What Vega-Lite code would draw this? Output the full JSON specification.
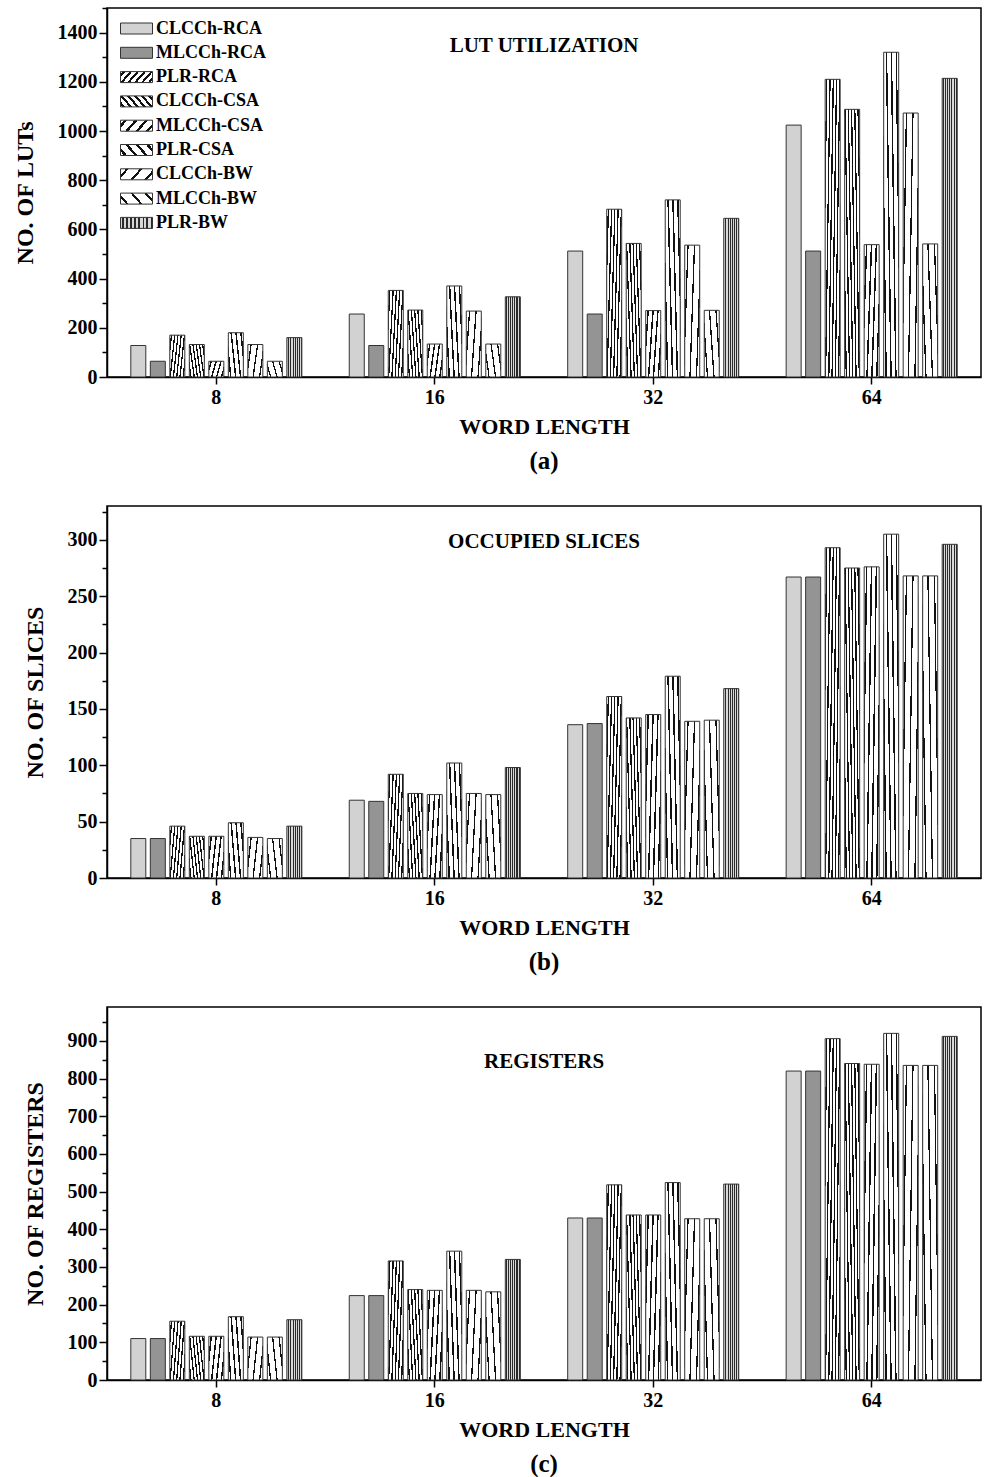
{
  "$schema": "https://vega.github.io/schema/vega-lite/v6.json",
  "padding": {"left": 12, "top": 6, "right": 4, "bottom": 0},
  "background": "#ffffff",
  "config": {
    "font": "Liberation Serif",
    "view": {"stroke": "#000000", "strokeWidth": 1.5},
    "axis": {"domainColor": "#000000", "domainWidth": 1.5, "tickColor": "#000000", "tickWidth": 1.5, "grid": false,
      "labelFont": "Liberation Serif", "labelFontWeight": "bold", "labelFontSize": 20, "labelColor": "#000000",
      "titleFont": "Liberation Serif", "titleFontWeight": "bold", "titleFontSize": 22, "titleColor": "#000000"},
    "title": {"font": "Liberation Serif", "fontWeight": "bold", "fontSize": 25, "color": "#000000"}
  },
  "datasets": {
    "lut": [
      {"w": "8", "s": "CLCCh-RCA", "v": 128}, {"w": "8", "s": "MLCCh-RCA", "v": 64}, {"w": "8", "s": "PLR-RCA", "v": 170},
      {"w": "8", "s": "CLCCh-CSA", "v": 132}, {"w": "8", "s": "MLCCh-CSA", "v": 64}, {"w": "8", "s": "PLR-CSA", "v": 180},
      {"w": "8", "s": "CLCCh-BW", "v": 132}, {"w": "8", "s": "MLCCh-BW", "v": 64}, {"w": "8", "s": "PLR-BW", "v": 160},
      {"w": "16", "s": "CLCCh-RCA", "v": 256}, {"w": "16", "s": "MLCCh-RCA", "v": 128}, {"w": "16", "s": "PLR-RCA", "v": 352},
      {"w": "16", "s": "CLCCh-CSA", "v": 272}, {"w": "16", "s": "MLCCh-CSA", "v": 134}, {"w": "16", "s": "PLR-CSA", "v": 370},
      {"w": "16", "s": "CLCCh-BW", "v": 268}, {"w": "16", "s": "MLCCh-BW", "v": 134}, {"w": "16", "s": "PLR-BW", "v": 326},
      {"w": "32", "s": "CLCCh-RCA", "v": 512}, {"w": "32", "s": "MLCCh-RCA", "v": 256}, {"w": "32", "s": "PLR-RCA", "v": 682},
      {"w": "32", "s": "CLCCh-CSA", "v": 543}, {"w": "32", "s": "MLCCh-CSA", "v": 270}, {"w": "32", "s": "PLR-CSA", "v": 720},
      {"w": "32", "s": "CLCCh-BW", "v": 536}, {"w": "32", "s": "MLCCh-BW", "v": 271}, {"w": "32", "s": "PLR-BW", "v": 645},
      {"w": "64", "s": "CLCCh-RCA", "v": 1024}, {"w": "64", "s": "MLCCh-RCA", "v": 512}, {"w": "64", "s": "PLR-RCA", "v": 1210},
      {"w": "64", "s": "CLCCh-CSA", "v": 1088}, {"w": "64", "s": "MLCCh-CSA", "v": 538}, {"w": "64", "s": "PLR-CSA", "v": 1320},
      {"w": "64", "s": "CLCCh-BW", "v": 1073}, {"w": "64", "s": "MLCCh-BW", "v": 541}, {"w": "64", "s": "PLR-BW", "v": 1214}
    ],
    "slices": [
      {"w": "8", "s": "CLCCh-RCA", "v": 35}, {"w": "8", "s": "MLCCh-RCA", "v": 35}, {"w": "8", "s": "PLR-RCA", "v": 46},
      {"w": "8", "s": "CLCCh-CSA", "v": 37}, {"w": "8", "s": "MLCCh-CSA", "v": 37}, {"w": "8", "s": "PLR-CSA", "v": 49},
      {"w": "8", "s": "CLCCh-BW", "v": 36}, {"w": "8", "s": "MLCCh-BW", "v": 35}, {"w": "8", "s": "PLR-BW", "v": 46},
      {"w": "16", "s": "CLCCh-RCA", "v": 69}, {"w": "16", "s": "MLCCh-RCA", "v": 68}, {"w": "16", "s": "PLR-RCA", "v": 92},
      {"w": "16", "s": "CLCCh-CSA", "v": 75}, {"w": "16", "s": "MLCCh-CSA", "v": 74}, {"w": "16", "s": "PLR-CSA", "v": 102},
      {"w": "16", "s": "CLCCh-BW", "v": 75}, {"w": "16", "s": "MLCCh-BW", "v": 74}, {"w": "16", "s": "PLR-BW", "v": 98},
      {"w": "32", "s": "CLCCh-RCA", "v": 136}, {"w": "32", "s": "MLCCh-RCA", "v": 137}, {"w": "32", "s": "PLR-RCA", "v": 161},
      {"w": "32", "s": "CLCCh-CSA", "v": 142}, {"w": "32", "s": "MLCCh-CSA", "v": 145}, {"w": "32", "s": "PLR-CSA", "v": 179},
      {"w": "32", "s": "CLCCh-BW", "v": 139}, {"w": "32", "s": "MLCCh-BW", "v": 140}, {"w": "32", "s": "PLR-BW", "v": 168},
      {"w": "64", "s": "CLCCh-RCA", "v": 267}, {"w": "64", "s": "MLCCh-RCA", "v": 267}, {"w": "64", "s": "PLR-RCA", "v": 293},
      {"w": "64", "s": "CLCCh-CSA", "v": 275}, {"w": "64", "s": "MLCCh-CSA", "v": 276}, {"w": "64", "s": "PLR-CSA", "v": 305},
      {"w": "64", "s": "CLCCh-BW", "v": 268}, {"w": "64", "s": "MLCCh-BW", "v": 268}, {"w": "64", "s": "PLR-BW", "v": 296}
    ],
    "regs": [
      {"w": "8", "s": "CLCCh-RCA", "v": 110}, {"w": "8", "s": "MLCCh-RCA", "v": 110}, {"w": "8", "s": "PLR-RCA", "v": 156},
      {"w": "8", "s": "CLCCh-CSA", "v": 116}, {"w": "8", "s": "MLCCh-CSA", "v": 116}, {"w": "8", "s": "PLR-CSA", "v": 168},
      {"w": "8", "s": "CLCCh-BW", "v": 114}, {"w": "8", "s": "MLCCh-BW", "v": 114}, {"w": "8", "s": "PLR-BW", "v": 160},
      {"w": "16", "s": "CLCCh-RCA", "v": 224}, {"w": "16", "s": "MLCCh-RCA", "v": 224}, {"w": "16", "s": "PLR-RCA", "v": 316},
      {"w": "16", "s": "CLCCh-CSA", "v": 240}, {"w": "16", "s": "MLCCh-CSA", "v": 238}, {"w": "16", "s": "PLR-CSA", "v": 342},
      {"w": "16", "s": "CLCCh-BW", "v": 238}, {"w": "16", "s": "MLCCh-BW", "v": 234}, {"w": "16", "s": "PLR-BW", "v": 320},
      {"w": "32", "s": "CLCCh-RCA", "v": 430}, {"w": "32", "s": "MLCCh-RCA", "v": 430}, {"w": "32", "s": "PLR-RCA", "v": 518},
      {"w": "32", "s": "CLCCh-CSA", "v": 438}, {"w": "32", "s": "MLCCh-CSA", "v": 438}, {"w": "32", "s": "PLR-CSA", "v": 524},
      {"w": "32", "s": "CLCCh-BW", "v": 428}, {"w": "32", "s": "MLCCh-BW", "v": 428}, {"w": "32", "s": "PLR-BW", "v": 520},
      {"w": "64", "s": "CLCCh-RCA", "v": 820}, {"w": "64", "s": "MLCCh-RCA", "v": 820}, {"w": "64", "s": "PLR-RCA", "v": 906},
      {"w": "64", "s": "CLCCh-CSA", "v": 840}, {"w": "64", "s": "MLCCh-CSA", "v": 838}, {"w": "64", "s": "PLR-CSA", "v": 920},
      {"w": "64", "s": "CLCCh-BW", "v": 835}, {"w": "64", "s": "MLCCh-BW", "v": 835}, {"w": "64", "s": "PLR-BW", "v": 912}
    ]
  },
  "resolve": {"scale": {"x": "independent", "y": "independent", "fill": "independent", "xOffset": "independent"}, "legend": {"fill": "independent"}},
  "spacing": 30,
  "vconcat": [
    {
      "width": 874, "height": 369,
      "title": {"text": "(a)", "orient": "bottom", "offset": 12, "frame": "group"},
      "layer": [
        {
          "data": {"name": "lut"},
          "mark": {"type": "bar", "strokeWidth": 1, "stroke": "#333333"},
          "encoding": {
            "x": {"field": "w", "type": "ordinal", "scale": {"domain": ["8", "16", "32", "64"], "paddingInner": 0.217, "paddingOuter": 0.109},
              "axis": {"title": "WORD LENGTH", "labelAngle": 0, "tickSize": 7, "labelPadding": 3, "titlePadding": 9}},
            "xOffset": {"field": "s", "type": "nominal", "scale": {"domain": ["CLCCh-RCA", "MLCCh-RCA", "PLR-RCA", "CLCCh-CSA", "MLCCh-CSA", "PLR-CSA", "CLCCh-BW", "MLCCh-BW", "PLR-BW"], "paddingInner": 0.231, "paddingOuter": 0}},
            "y": {"field": "v", "type": "quantitative", "scale": {"domain": [0, 1500], "nice": false},
              "axis": {"title": "NO. OF LUTs", "titleFontSize": 24, "format": "d", "values": [0, 100, 200, 300, 400, 500, 600, 700, 800, 900, 1000, 1100, 1200, 1300, 1400, 1500],
                "labelExpr": "datum.value % 200 === 0 ? datum.label : ''",
                "tickSize": {"condition": {"test": "datum.value % 200 === 0", "value": 8}, "value": 5},
                "labelPadding": 2, "titlePadding": 20}},
            "fill": {"field": "s", "type": "nominal",
              "scale": {"domain": ["CLCCh-RCA", "MLCCh-RCA", "PLR-RCA", "CLCCh-CSA", "MLCCh-CSA", "PLR-CSA", "CLCCh-BW", "MLCCh-BW", "PLR-BW"],
                "range": [
                  "#d2d2d2",
                  "#949494",
                  {"expr": "{gradient:'linear',x1:0,y1:0,x2:1.193,y2:0.358,stops:[{offset:0,color:'#fff'},{offset:0.05,color:'#fff'},{offset:0.05,color:'#111'},{offset:0.117,color:'#111'},{offset:0.117,color:'#fff'},{offset:0.217,color:'#fff'},{offset:0.217,color:'#111'},{offset:0.283,color:'#111'},{offset:0.283,color:'#fff'},{offset:0.383,color:'#fff'},{offset:0.383,color:'#111'},{offset:0.45,color:'#111'},{offset:0.45,color:'#fff'},{offset:0.55,color:'#fff'},{offset:0.55,color:'#111'},{offset:0.617,color:'#111'},{offset:0.617,color:'#fff'},{offset:0.717,color:'#fff'},{offset:0.717,color:'#111'},{offset:0.783,color:'#111'},{offset:0.783,color:'#fff'},{offset:0.883,color:'#fff'},{offset:0.883,color:'#111'},{offset:0.95,color:'#111'},{offset:0.95,color:'#fff'},{offset:1,color:'#fff'}]}"},
                  {"expr": "{gradient:'linear',x1:0,y1:1,x2:1.193,y2:0.642,stops:[{offset:0,color:'#fff'},{offset:0.05,color:'#fff'},{offset:0.05,color:'#111'},{offset:0.117,color:'#111'},{offset:0.117,color:'#fff'},{offset:0.217,color:'#fff'},{offset:0.217,color:'#111'},{offset:0.283,color:'#111'},{offset:0.283,color:'#fff'},{offset:0.383,color:'#fff'},{offset:0.383,color:'#111'},{offset:0.45,color:'#111'},{offset:0.45,color:'#fff'},{offset:0.55,color:'#fff'},{offset:0.55,color:'#111'},{offset:0.617,color:'#111'},{offset:0.617,color:'#fff'},{offset:0.717,color:'#fff'},{offset:0.717,color:'#111'},{offset:0.783,color:'#111'},{offset:0.783,color:'#fff'},{offset:0.883,color:'#fff'},{offset:0.883,color:'#111'},{offset:0.95,color:'#111'},{offset:0.95,color:'#fff'},{offset:1,color:'#fff'}]}"},
                  {"expr": "{gradient:'linear',x1:0,y1:0,x2:1.193,y2:0.358,stops:[{offset:0,color:'#fff'},{offset:0.0875,color:'#fff'},{offset:0.0875,color:'#111'},{offset:0.1625,color:'#111'},{offset:0.1625,color:'#fff'},{offset:0.3375,color:'#fff'},{offset:0.3375,color:'#111'},{offset:0.4125,color:'#111'},{offset:0.4125,color:'#fff'},{offset:0.5875,color:'#fff'},{offset:0.5875,color:'#111'},{offset:0.6625,color:'#111'},{offset:0.6625,color:'#fff'},{offset:0.8375,color:'#fff'},{offset:0.8375,color:'#111'},{offset:0.9125,color:'#111'},{offset:0.9125,color:'#fff'},{offset:1,color:'#fff'}]}"},
                  {"expr": "{gradient:'linear',x1:0,y1:1,x2:1.193,y2:0.642,stops:[{offset:0,color:'#fff'},{offset:0.0875,color:'#fff'},{offset:0.0875,color:'#111'},{offset:0.1625,color:'#111'},{offset:0.1625,color:'#fff'},{offset:0.3375,color:'#fff'},{offset:0.3375,color:'#111'},{offset:0.4125,color:'#111'},{offset:0.4125,color:'#fff'},{offset:0.5875,color:'#fff'},{offset:0.5875,color:'#111'},{offset:0.6625,color:'#111'},{offset:0.6625,color:'#fff'},{offset:0.8375,color:'#fff'},{offset:0.8375,color:'#111'},{offset:0.9125,color:'#111'},{offset:0.9125,color:'#fff'},{offset:1,color:'#fff'}]}"},
                  {"expr": "{gradient:'linear',x1:0,y1:0,x2:1.193,y2:0.358,stops:[{offset:0,color:'#fff'},{offset:0.1333,color:'#fff'},{offset:0.1333,color:'#111'},{offset:0.2,color:'#111'},{offset:0.2,color:'#fff'},{offset:0.4667,color:'#fff'},{offset:0.4667,color:'#111'},{offset:0.5333,color:'#111'},{offset:0.5333,color:'#fff'},{offset:0.8,color:'#fff'},{offset:0.8,color:'#111'},{offset:0.8667,color:'#111'},{offset:0.8667,color:'#fff'},{offset:1,color:'#fff'}]}"},
                  {"expr": "{gradient:'linear',x1:0,y1:1,x2:1.193,y2:0.642,stops:[{offset:0,color:'#fff'},{offset:0.1333,color:'#fff'},{offset:0.1333,color:'#111'},{offset:0.2,color:'#111'},{offset:0.2,color:'#fff'},{offset:0.4667,color:'#fff'},{offset:0.4667,color:'#111'},{offset:0.5333,color:'#111'},{offset:0.5333,color:'#fff'},{offset:0.8,color:'#fff'},{offset:0.8,color:'#111'},{offset:0.8667,color:'#111'},{offset:0.8667,color:'#fff'},{offset:1,color:'#fff'}]}"},
                  {"expr": "{gradient:'linear',x1:0,y1:0,x2:1,y2:0,stops:[{offset:0,color:'#d8d8d8'},{offset:0.0625,color:'#d8d8d8'},{offset:0.0625,color:'#2a2a2a'},{offset:0.125,color:'#2a2a2a'},{offset:0.125,color:'#d8d8d8'},{offset:0.1875,color:'#d8d8d8'},{offset:0.1875,color:'#2a2a2a'},{offset:0.25,color:'#2a2a2a'},{offset:0.25,color:'#d8d8d8'},{offset:0.3125,color:'#d8d8d8'},{offset:0.3125,color:'#2a2a2a'},{offset:0.375,color:'#2a2a2a'},{offset:0.375,color:'#d8d8d8'},{offset:0.4375,color:'#d8d8d8'},{offset:0.4375,color:'#2a2a2a'},{offset:0.5,color:'#2a2a2a'},{offset:0.5,color:'#d8d8d8'},{offset:0.5625,color:'#d8d8d8'},{offset:0.5625,color:'#2a2a2a'},{offset:0.625,color:'#2a2a2a'},{offset:0.625,color:'#d8d8d8'},{offset:0.6875,color:'#d8d8d8'},{offset:0.6875,color:'#2a2a2a'},{offset:0.75,color:'#2a2a2a'},{offset:0.75,color:'#d8d8d8'},{offset:0.8125,color:'#d8d8d8'},{offset:0.8125,color:'#2a2a2a'},{offset:0.875,color:'#2a2a2a'},{offset:0.875,color:'#d8d8d8'},{offset:0.9375,color:'#d8d8d8'},{offset:0.9375,color:'#2a2a2a'},{offset:1,color:'#2a2a2a'}]}"}
                ]},
              "legend": {"orient": "top-left", "offset": 10, "padding": 0, "title": null, "symbolType": "M-0.7,-0.55H2.5V0.55H-0.7Z", "symbolSize": 400,
                "symbolStrokeColor": "#333333", "symbolStrokeWidth": 1, "labelOffset": 18, "labelFontSize": 18, "labelFontWeight": "bold",
                "labelFont": "Liberation Serif", "labelColor": "#000000", "rowPadding": 4.3}}
          }
        },
        {
          "data": {"values": [{"t": "LUT UTILIZATION"}]},
          "mark": {"type": "text", "fontSize": 21, "fontWeight": "bold", "font": "Liberation Serif", "color": "#000000", "align": "center", "baseline": "middle"},
          "encoding": {
            "x": {"datum": "16", "type": "ordinal", "bandPosition": 1.139,
              "axis": {"title": "WORD LENGTH", "labelAngle": 0, "tickSize": 7, "labelPadding": 3, "titlePadding": 9}},
            "y": {"datum": 1345, "type": "quantitative",
              "axis": {"title": "NO. OF LUTs", "titleFontSize": 24, "format": "d", "values": [0, 100, 200, 300, 400, 500, 600, 700, 800, 900, 1000, 1100, 1200, 1300, 1400, 1500],
                "labelExpr": "datum.value % 200 === 0 ? datum.label : ''",
                "tickSize": {"condition": {"test": "datum.value % 200 === 0", "value": 8}, "value": 5},
                "labelPadding": 2, "titlePadding": 20}},
            "text": {"field": "t"}
          }
        }
      ]
    },
    {
      "width": 874, "height": 372,
      "title": {"text": "(b)", "orient": "bottom", "offset": 12, "frame": "group"},
      "layer": [
        {
          "data": {"name": "slices"},
          "mark": {"type": "bar", "strokeWidth": 1, "stroke": "#333333"},
          "encoding": {
            "x": {"field": "w", "type": "ordinal", "scale": {"domain": ["8", "16", "32", "64"], "paddingInner": 0.217, "paddingOuter": 0.109},
              "axis": {"title": "WORD LENGTH", "labelAngle": 0, "tickSize": 7, "labelPadding": 3, "titlePadding": 9}},
            "xOffset": {"field": "s", "type": "nominal", "scale": {"domain": ["CLCCh-RCA", "MLCCh-RCA", "PLR-RCA", "CLCCh-CSA", "MLCCh-CSA", "PLR-CSA", "CLCCh-BW", "MLCCh-BW", "PLR-BW"], "paddingInner": 0.231, "paddingOuter": 0}},
            "y": {"field": "v", "type": "quantitative", "scale": {"domain": [0, 330], "nice": false},
              "axis": {"title": "NO. OF SLICES", "titleFontSize": 24, "format": "d", "values": [0, 25, 50, 75, 100, 125, 150, 175, 200, 225, 250, 275, 300, 325],
                "labelExpr": "datum.value % 50 === 0 ? datum.label : ''",
                "tickSize": {"condition": {"test": "datum.value % 50 === 0", "value": 8}, "value": 5},
                "labelPadding": 2, "titlePadding": 20}},
            "fill": {"field": "s", "type": "nominal", "legend": null,
              "scale": {"domain": ["CLCCh-RCA", "MLCCh-RCA", "PLR-RCA", "CLCCh-CSA", "MLCCh-CSA", "PLR-CSA", "CLCCh-BW", "MLCCh-BW", "PLR-BW"],
                "range": [
                  "#d2d2d2",
                  "#949494",
                  {"expr": "{gradient:'linear',x1:0,y1:0,x2:1.193,y2:0.358,stops:[{offset:0,color:'#fff'},{offset:0.05,color:'#fff'},{offset:0.05,color:'#111'},{offset:0.117,color:'#111'},{offset:0.117,color:'#fff'},{offset:0.217,color:'#fff'},{offset:0.217,color:'#111'},{offset:0.283,color:'#111'},{offset:0.283,color:'#fff'},{offset:0.383,color:'#fff'},{offset:0.383,color:'#111'},{offset:0.45,color:'#111'},{offset:0.45,color:'#fff'},{offset:0.55,color:'#fff'},{offset:0.55,color:'#111'},{offset:0.617,color:'#111'},{offset:0.617,color:'#fff'},{offset:0.717,color:'#fff'},{offset:0.717,color:'#111'},{offset:0.783,color:'#111'},{offset:0.783,color:'#fff'},{offset:0.883,color:'#fff'},{offset:0.883,color:'#111'},{offset:0.95,color:'#111'},{offset:0.95,color:'#fff'},{offset:1,color:'#fff'}]}"},
                  {"expr": "{gradient:'linear',x1:0,y1:1,x2:1.193,y2:0.642,stops:[{offset:0,color:'#fff'},{offset:0.05,color:'#fff'},{offset:0.05,color:'#111'},{offset:0.117,color:'#111'},{offset:0.117,color:'#fff'},{offset:0.217,color:'#fff'},{offset:0.217,color:'#111'},{offset:0.283,color:'#111'},{offset:0.283,color:'#fff'},{offset:0.383,color:'#fff'},{offset:0.383,color:'#111'},{offset:0.45,color:'#111'},{offset:0.45,color:'#fff'},{offset:0.55,color:'#fff'},{offset:0.55,color:'#111'},{offset:0.617,color:'#111'},{offset:0.617,color:'#fff'},{offset:0.717,color:'#fff'},{offset:0.717,color:'#111'},{offset:0.783,color:'#111'},{offset:0.783,color:'#fff'},{offset:0.883,color:'#fff'},{offset:0.883,color:'#111'},{offset:0.95,color:'#111'},{offset:0.95,color:'#fff'},{offset:1,color:'#fff'}]}"},
                  {"expr": "{gradient:'linear',x1:0,y1:0,x2:1.193,y2:0.358,stops:[{offset:0,color:'#fff'},{offset:0.0875,color:'#fff'},{offset:0.0875,color:'#111'},{offset:0.1625,color:'#111'},{offset:0.1625,color:'#fff'},{offset:0.3375,color:'#fff'},{offset:0.3375,color:'#111'},{offset:0.4125,color:'#111'},{offset:0.4125,color:'#fff'},{offset:0.5875,color:'#fff'},{offset:0.5875,color:'#111'},{offset:0.6625,color:'#111'},{offset:0.6625,color:'#fff'},{offset:0.8375,color:'#fff'},{offset:0.8375,color:'#111'},{offset:0.9125,color:'#111'},{offset:0.9125,color:'#fff'},{offset:1,color:'#fff'}]}"},
                  {"expr": "{gradient:'linear',x1:0,y1:1,x2:1.193,y2:0.642,stops:[{offset:0,color:'#fff'},{offset:0.0875,color:'#fff'},{offset:0.0875,color:'#111'},{offset:0.1625,color:'#111'},{offset:0.1625,color:'#fff'},{offset:0.3375,color:'#fff'},{offset:0.3375,color:'#111'},{offset:0.4125,color:'#111'},{offset:0.4125,color:'#fff'},{offset:0.5875,color:'#fff'},{offset:0.5875,color:'#111'},{offset:0.6625,color:'#111'},{offset:0.6625,color:'#fff'},{offset:0.8375,color:'#fff'},{offset:0.8375,color:'#111'},{offset:0.9125,color:'#111'},{offset:0.9125,color:'#fff'},{offset:1,color:'#fff'}]}"},
                  {"expr": "{gradient:'linear',x1:0,y1:0,x2:1.193,y2:0.358,stops:[{offset:0,color:'#fff'},{offset:0.1333,color:'#fff'},{offset:0.1333,color:'#111'},{offset:0.2,color:'#111'},{offset:0.2,color:'#fff'},{offset:0.4667,color:'#fff'},{offset:0.4667,color:'#111'},{offset:0.5333,color:'#111'},{offset:0.5333,color:'#fff'},{offset:0.8,color:'#fff'},{offset:0.8,color:'#111'},{offset:0.8667,color:'#111'},{offset:0.8667,color:'#fff'},{offset:1,color:'#fff'}]}"},
                  {"expr": "{gradient:'linear',x1:0,y1:1,x2:1.193,y2:0.642,stops:[{offset:0,color:'#fff'},{offset:0.1333,color:'#fff'},{offset:0.1333,color:'#111'},{offset:0.2,color:'#111'},{offset:0.2,color:'#fff'},{offset:0.4667,color:'#fff'},{offset:0.4667,color:'#111'},{offset:0.5333,color:'#111'},{offset:0.5333,color:'#fff'},{offset:0.8,color:'#fff'},{offset:0.8,color:'#111'},{offset:0.8667,color:'#111'},{offset:0.8667,color:'#fff'},{offset:1,color:'#fff'}]}"},
                  {"expr": "{gradient:'linear',x1:0,y1:0,x2:1,y2:0,stops:[{offset:0,color:'#d8d8d8'},{offset:0.0625,color:'#d8d8d8'},{offset:0.0625,color:'#2a2a2a'},{offset:0.125,color:'#2a2a2a'},{offset:0.125,color:'#d8d8d8'},{offset:0.1875,color:'#d8d8d8'},{offset:0.1875,color:'#2a2a2a'},{offset:0.25,color:'#2a2a2a'},{offset:0.25,color:'#d8d8d8'},{offset:0.3125,color:'#d8d8d8'},{offset:0.3125,color:'#2a2a2a'},{offset:0.375,color:'#2a2a2a'},{offset:0.375,color:'#d8d8d8'},{offset:0.4375,color:'#d8d8d8'},{offset:0.4375,color:'#2a2a2a'},{offset:0.5,color:'#2a2a2a'},{offset:0.5,color:'#d8d8d8'},{offset:0.5625,color:'#d8d8d8'},{offset:0.5625,color:'#2a2a2a'},{offset:0.625,color:'#2a2a2a'},{offset:0.625,color:'#d8d8d8'},{offset:0.6875,color:'#d8d8d8'},{offset:0.6875,color:'#2a2a2a'},{offset:0.75,color:'#2a2a2a'},{offset:0.75,color:'#d8d8d8'},{offset:0.8125,color:'#d8d8d8'},{offset:0.8125,color:'#2a2a2a'},{offset:0.875,color:'#2a2a2a'},{offset:0.875,color:'#d8d8d8'},{offset:0.9375,color:'#d8d8d8'},{offset:0.9375,color:'#2a2a2a'},{offset:1,color:'#2a2a2a'}]}"}
                ]}}
          }
        },
        {
          "data": {"values": [{"t": "OCCUPIED SLICES"}]},
          "mark": {"type": "text", "fontSize": 21, "fontWeight": "bold", "font": "Liberation Serif", "color": "#000000", "align": "center", "baseline": "middle"},
          "encoding": {
            "x": {"datum": "16", "type": "ordinal", "bandPosition": 1.139,
              "axis": {"title": "WORD LENGTH", "labelAngle": 0, "tickSize": 7, "labelPadding": 3, "titlePadding": 9}},
            "y": {"datum": 298, "type": "quantitative",
              "axis": {"title": "NO. OF SLICES", "titleFontSize": 24, "format": "d", "values": [0, 25, 50, 75, 100, 125, 150, 175, 200, 225, 250, 275, 300, 325],
                "labelExpr": "datum.value % 50 === 0 ? datum.label : ''",
                "tickSize": {"condition": {"test": "datum.value % 50 === 0", "value": 8}, "value": 5},
                "labelPadding": 2, "titlePadding": 20}},
            "text": {"field": "t"}
          }
        }
      ]
    },
    {
      "width": 874, "height": 373,
      "title": {"text": "(c)", "orient": "bottom", "offset": 12, "frame": "group"},
      "layer": [
        {
          "data": {"name": "regs"},
          "mark": {"type": "bar", "strokeWidth": 1, "stroke": "#333333"},
          "encoding": {
            "x": {"field": "w", "type": "ordinal", "scale": {"domain": ["8", "16", "32", "64"], "paddingInner": 0.217, "paddingOuter": 0.109},
              "axis": {"title": "WORD LENGTH", "labelAngle": 0, "tickSize": 7, "labelPadding": 3, "titlePadding": 9}},
            "xOffset": {"field": "s", "type": "nominal", "scale": {"domain": ["CLCCh-RCA", "MLCCh-RCA", "PLR-RCA", "CLCCh-CSA", "MLCCh-CSA", "PLR-CSA", "CLCCh-BW", "MLCCh-BW", "PLR-BW"], "paddingInner": 0.231, "paddingOuter": 0}},
            "y": {"field": "v", "type": "quantitative", "scale": {"domain": [0, 990], "nice": false},
              "axis": {"title": "NO. OF REGISTERS", "titleFontSize": 24, "format": "d", "values": [0, 50, 100, 150, 200, 250, 300, 350, 400, 450, 500, 550, 600, 650, 700, 750, 800, 850, 900, 950],
                "labelExpr": "datum.value % 100 === 0 ? datum.label : ''",
                "tickSize": {"condition": {"test": "datum.value % 100 === 0", "value": 8}, "value": 5},
                "labelPadding": 2, "titlePadding": 20}},
            "fill": {"field": "s", "type": "nominal", "legend": null,
              "scale": {"domain": ["CLCCh-RCA", "MLCCh-RCA", "PLR-RCA", "CLCCh-CSA", "MLCCh-CSA", "PLR-CSA", "CLCCh-BW", "MLCCh-BW", "PLR-BW"],
                "range": [
                  "#d2d2d2",
                  "#949494",
                  {"expr": "{gradient:'linear',x1:0,y1:0,x2:1.193,y2:0.358,stops:[{offset:0,color:'#fff'},{offset:0.05,color:'#fff'},{offset:0.05,color:'#111'},{offset:0.117,color:'#111'},{offset:0.117,color:'#fff'},{offset:0.217,color:'#fff'},{offset:0.217,color:'#111'},{offset:0.283,color:'#111'},{offset:0.283,color:'#fff'},{offset:0.383,color:'#fff'},{offset:0.383,color:'#111'},{offset:0.45,color:'#111'},{offset:0.45,color:'#fff'},{offset:0.55,color:'#fff'},{offset:0.55,color:'#111'},{offset:0.617,color:'#111'},{offset:0.617,color:'#fff'},{offset:0.717,color:'#fff'},{offset:0.717,color:'#111'},{offset:0.783,color:'#111'},{offset:0.783,color:'#fff'},{offset:0.883,color:'#fff'},{offset:0.883,color:'#111'},{offset:0.95,color:'#111'},{offset:0.95,color:'#fff'},{offset:1,color:'#fff'}]}"},
                  {"expr": "{gradient:'linear',x1:0,y1:1,x2:1.193,y2:0.642,stops:[{offset:0,color:'#fff'},{offset:0.05,color:'#fff'},{offset:0.05,color:'#111'},{offset:0.117,color:'#111'},{offset:0.117,color:'#fff'},{offset:0.217,color:'#fff'},{offset:0.217,color:'#111'},{offset:0.283,color:'#111'},{offset:0.283,color:'#fff'},{offset:0.383,color:'#fff'},{offset:0.383,color:'#111'},{offset:0.45,color:'#111'},{offset:0.45,color:'#fff'},{offset:0.55,color:'#fff'},{offset:0.55,color:'#111'},{offset:0.617,color:'#111'},{offset:0.617,color:'#fff'},{offset:0.717,color:'#fff'},{offset:0.717,color:'#111'},{offset:0.783,color:'#111'},{offset:0.783,color:'#fff'},{offset:0.883,color:'#fff'},{offset:0.883,color:'#111'},{offset:0.95,color:'#111'},{offset:0.95,color:'#fff'},{offset:1,color:'#fff'}]}"},
                  {"expr": "{gradient:'linear',x1:0,y1:0,x2:1.193,y2:0.358,stops:[{offset:0,color:'#fff'},{offset:0.0875,color:'#fff'},{offset:0.0875,color:'#111'},{offset:0.1625,color:'#111'},{offset:0.1625,color:'#fff'},{offset:0.3375,color:'#fff'},{offset:0.3375,color:'#111'},{offset:0.4125,color:'#111'},{offset:0.4125,color:'#fff'},{offset:0.5875,color:'#fff'},{offset:0.5875,color:'#111'},{offset:0.6625,color:'#111'},{offset:0.6625,color:'#fff'},{offset:0.8375,color:'#fff'},{offset:0.8375,color:'#111'},{offset:0.9125,color:'#111'},{offset:0.9125,color:'#fff'},{offset:1,color:'#fff'}]}"},
                  {"expr": "{gradient:'linear',x1:0,y1:1,x2:1.193,y2:0.642,stops:[{offset:0,color:'#fff'},{offset:0.0875,color:'#fff'},{offset:0.0875,color:'#111'},{offset:0.1625,color:'#111'},{offset:0.1625,color:'#fff'},{offset:0.3375,color:'#fff'},{offset:0.3375,color:'#111'},{offset:0.4125,color:'#111'},{offset:0.4125,color:'#fff'},{offset:0.5875,color:'#fff'},{offset:0.5875,color:'#111'},{offset:0.6625,color:'#111'},{offset:0.6625,color:'#fff'},{offset:0.8375,color:'#fff'},{offset:0.8375,color:'#111'},{offset:0.9125,color:'#111'},{offset:0.9125,color:'#fff'},{offset:1,color:'#fff'}]}"},
                  {"expr": "{gradient:'linear',x1:0,y1:0,x2:1.193,y2:0.358,stops:[{offset:0,color:'#fff'},{offset:0.1333,color:'#fff'},{offset:0.1333,color:'#111'},{offset:0.2,color:'#111'},{offset:0.2,color:'#fff'},{offset:0.4667,color:'#fff'},{offset:0.4667,color:'#111'},{offset:0.5333,color:'#111'},{offset:0.5333,color:'#fff'},{offset:0.8,color:'#fff'},{offset:0.8,color:'#111'},{offset:0.8667,color:'#111'},{offset:0.8667,color:'#fff'},{offset:1,color:'#fff'}]}"},
                  {"expr": "{gradient:'linear',x1:0,y1:1,x2:1.193,y2:0.642,stops:[{offset:0,color:'#fff'},{offset:0.1333,color:'#fff'},{offset:0.1333,color:'#111'},{offset:0.2,color:'#111'},{offset:0.2,color:'#fff'},{offset:0.4667,color:'#fff'},{offset:0.4667,color:'#111'},{offset:0.5333,color:'#111'},{offset:0.5333,color:'#fff'},{offset:0.8,color:'#fff'},{offset:0.8,color:'#111'},{offset:0.8667,color:'#111'},{offset:0.8667,color:'#fff'},{offset:1,color:'#fff'}]}"},
                  {"expr": "{gradient:'linear',x1:0,y1:0,x2:1,y2:0,stops:[{offset:0,color:'#d8d8d8'},{offset:0.0625,color:'#d8d8d8'},{offset:0.0625,color:'#2a2a2a'},{offset:0.125,color:'#2a2a2a'},{offset:0.125,color:'#d8d8d8'},{offset:0.1875,color:'#d8d8d8'},{offset:0.1875,color:'#2a2a2a'},{offset:0.25,color:'#2a2a2a'},{offset:0.25,color:'#d8d8d8'},{offset:0.3125,color:'#d8d8d8'},{offset:0.3125,color:'#2a2a2a'},{offset:0.375,color:'#2a2a2a'},{offset:0.375,color:'#d8d8d8'},{offset:0.4375,color:'#d8d8d8'},{offset:0.4375,color:'#2a2a2a'},{offset:0.5,color:'#2a2a2a'},{offset:0.5,color:'#d8d8d8'},{offset:0.5625,color:'#d8d8d8'},{offset:0.5625,color:'#2a2a2a'},{offset:0.625,color:'#2a2a2a'},{offset:0.625,color:'#d8d8d8'},{offset:0.6875,color:'#d8d8d8'},{offset:0.6875,color:'#2a2a2a'},{offset:0.75,color:'#2a2a2a'},{offset:0.75,color:'#d8d8d8'},{offset:0.8125,color:'#d8d8d8'},{offset:0.8125,color:'#2a2a2a'},{offset:0.875,color:'#2a2a2a'},{offset:0.875,color:'#d8d8d8'},{offset:0.9375,color:'#d8d8d8'},{offset:0.9375,color:'#2a2a2a'},{offset:1,color:'#2a2a2a'}]}"}
                ]}}
          }
        },
        {
          "data": {"values": [{"t": "REGISTERS"}]},
          "mark": {"type": "text", "fontSize": 21, "fontWeight": "bold", "font": "Liberation Serif", "color": "#000000", "align": "center", "baseline": "middle"},
          "encoding": {
            "x": {"datum": "16", "type": "ordinal", "bandPosition": 1.139,
              "axis": {"title": "WORD LENGTH", "labelAngle": 0, "tickSize": 7, "labelPadding": 3, "titlePadding": 9}},
            "y": {"datum": 845, "type": "quantitative",
              "axis": {"title": "NO. OF REGISTERS", "titleFontSize": 24, "format": "d", "values": [0, 50, 100, 150, 200, 250, 300, 350, 400, 450, 500, 550, 600, 650, 700, 750, 800, 850, 900, 950],
                "labelExpr": "datum.value % 100 === 0 ? datum.label : ''",
                "tickSize": {"condition": {"test": "datum.value % 100 === 0", "value": 8}, "value": 5},
                "labelPadding": 2, "titlePadding": 20}},
            "text": {"field": "t"}
          }
        }
      ]
    }
  ]
}
